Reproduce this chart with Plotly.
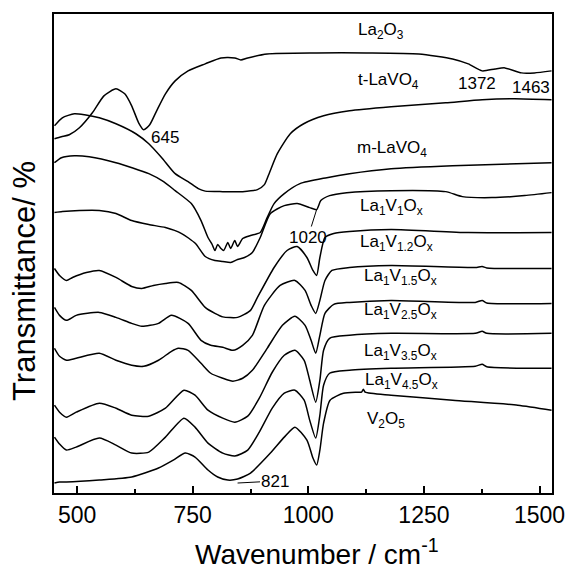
import plotly.graph_objects as go

# ---------------- data (wavenumber in cm-1, offset transmittance in arbitrary units) ----------------
wn_la2o3 = [451, 466, 483, 505, 533, 558, 584, 603, 618, 633, 644, 657, 672, 691, 712, 740, 777, 811, 841, 854, 869, 911, 1018, 1125, 1239, 1312, 1346, 1376, 1404, 1425, 1461, 1489, 1526]
t_la2o3 = [355, 357, 359, 366, 381, 398, 405, 400, 388, 371, 364, 369, 383, 400, 413, 423, 430, 436, 436, 434, 436, 440, 441, 441, 440, 435, 430, 423, 425, 426, 421, 421, 423]

wn_tlavo4 = [451, 468, 494, 516, 548, 584, 627, 655, 683, 712, 740, 762, 777, 815, 858, 890, 905, 916, 933, 961, 990, 1033, 1089, 1179, 1297, 1376, 1446, 1526]
t_tlavo4 = [368, 376, 380, 379, 376, 370, 360, 350, 336, 320, 312, 305, 302.5, 302, 302, 304, 309, 321, 340, 360, 370, 378, 383, 387, 391, 394, 395, 394]

wn_mlavo4 = [451, 466, 494, 526, 584, 655, 687, 712, 747, 768, 783, 792, 798, 804, 811, 817, 826, 832, 841, 847, 858, 875, 896, 911, 926, 948, 982, 1040, 1089, 1179, 1312, 1526]
t_mlavo4 = [331, 336, 338, 337, 331, 320, 312, 303, 290, 273, 256, 249, 243, 249, 245, 243, 251, 245, 253, 247, 255, 258, 261, 276, 290, 300, 310, 316, 320, 325, 328, 331]

wn_v1 = [451, 468, 505, 548, 584, 618, 655, 691, 726, 756, 777, 798, 815, 832, 847, 862, 879, 896, 918, 948, 976, 1003, 1018, 1027, 1046, 1083, 1179, 1297, 1333, 1397, 1468, 1526]
t_v1 = [281, 282, 283, 283, 280, 273, 269, 266, 260, 250, 237, 233, 232, 231, 234, 236, 241, 256, 280, 288, 290, 286, 284, 293, 298, 301, 303, 302, 297, 296, 298, 301]

wn_v12 = [451, 462, 477, 490, 520, 548, 584, 618, 640, 665, 691, 719, 747, 777, 798, 815, 847, 875, 890, 926, 954, 976, 997, 1010, 1018, 1025, 1036, 1055, 1089, 1179, 1346, 1526]
t_v12 = [225, 218, 213, 216, 221, 223, 216, 207, 205, 208, 210, 211, 203, 186, 180, 176.5, 176, 183, 196, 226, 243, 247, 236, 223, 218, 236, 256, 260, 262, 264, 261, 261]

wn_v15 = [451, 462, 477, 498, 548, 584, 618, 640, 676, 704, 740, 768, 789, 815, 837, 858, 879, 905, 939, 971, 993, 1006, 1016, 1025, 1036, 1051, 1089, 1179, 1361, 1376, 1386, 1526]
t_v15 = [186, 178, 173, 178, 181, 176, 170, 167, 170, 178, 170, 153, 148, 146, 143, 148, 158, 188, 208, 213, 203, 188, 180, 193, 213, 223, 226, 228, 226, 227, 225.5, 225]

wn_v25 = [451, 462, 477, 498, 548, 584, 618, 644, 676, 704, 719, 740, 768, 789, 815, 837, 858, 879, 911, 944, 971, 993, 1006, 1016, 1025, 1036, 1055, 1089, 1179, 1361, 1376, 1386, 1526]
t_v25 = [145, 137, 133, 135, 140, 133, 128, 127, 133, 142, 145, 143, 130, 120, 115, 112, 115, 123, 145, 168, 177, 168, 153, 140, 158, 180, 189, 191, 193, 191, 193, 190.5, 190]

wn_v35 = [451, 462, 477, 498, 548, 584, 618, 655, 691, 731, 755, 783, 815, 841, 869, 894, 922, 948, 971, 991, 1003, 1016, 1025, 1033, 1046, 1089, 1179, 1361, 1376, 1386, 1526]
t_v35 = [88, 81, 76, 81, 90, 85, 78, 77, 85, 103, 98, 83, 75, 71, 77, 95, 121, 138, 143, 133, 113, 91, 113, 143, 155, 158, 160, 160, 162, 160, 160]

wn_v45 = [451, 462, 477, 498, 548, 584, 618, 655, 691, 731, 755, 783, 815, 841, 869, 894, 922, 948, 971, 991, 1003, 1016, 1025, 1033, 1046, 1089, 1179, 1361, 1376, 1386, 1526]
t_v45 = [56, 49, 43, 46, 55, 48, 40, 41, 56, 75, 66, 50, 40, 37, 43, 61, 85, 100, 103, 93, 73, 55, 78, 108, 120, 123, 125, 127, 129, 126.5, 125]

wn_v2o5 = [451, 462, 477, 548, 618, 676, 708, 734, 755, 783, 804, 826, 847, 875, 918, 948, 971, 997, 1010, 1018, 1025, 1033, 1047, 1076, 1104, 1115, 1119, 1123, 1179, 1312, 1453, 1526]
t_v2o5 = [10, 11, 11, 13, 16, 25, 33, 40, 36, 23, 16, 13, 14, 20, 40, 56, 66, 53, 35, 28, 43, 70, 93, 100, 101, 101, 104, 101, 98, 93, 88, 83]

series = [
    (wn_la2o3, t_la2o3), (wn_tlavo4, t_tlavo4), (wn_mlavo4, t_mlavo4),
    (wn_v1, t_v1), (wn_v12, t_v12), (wn_v15, t_v15), (wn_v25, t_v25),
    (wn_v35, t_v35), (wn_v45, t_v45), (wn_v2o5, t_v2o5),
]

# curve labels: text, wavenumber of left edge, vertical position
label_texts = ["La<sub>2</sub>O<sub>3</sub>", "t-LaVO<sub>4</sub>", "m-LaVO<sub>4</sub>",
               "La<sub>1</sub>V<sub>1</sub>O<sub>x</sub>", "La<sub>1</sub>V<sub>1.2</sub>O<sub>x</sub>",
               "La<sub>1</sub>V<sub>1.5</sub>O<sub>x</sub>", "La<sub>1</sub>V<sub>2.5</sub>O<sub>x</sub>",
               "La<sub>1</sub>V<sub>3.5</sub>O<sub>x</sub>", "La<sub>1</sub>V<sub>4.5</sub>O<sub>x</sub>",
               "V<sub>2</sub>O<sub>5</sub>"]
label_wn = [1104, 1104, 1100, 1108, 1108, 1117, 1117, 1117, 1119, 1123]
label_t = [463, 413, 345, 287, 251, 216, 182, 141, 112, 73]

# band annotations: text, text position, pointed position (None = no leader)
band_texts = ["645", "1372", "1463", "1020", "821"]
band_text_wn = [689, 1365, 1481, 999, 929]
band_text_t = [356, 410, 406, 256, 12]
band_tip_wn = [None, None, None, 1018, 847]
band_tip_t = [None, None, None, 284, 10]

xtick_vals = [500, 750, 1000, 1250, 1500]

FONT = "Liberation Sans, Arial, Helvetica, sans-serif"

fig = go.Figure()
for wn, t in series:
    fig.add_trace(go.Scatter(x=wn, y=t, mode="lines", showlegend=False, hoverinfo="skip",
                             line=dict(color="black", width=1.5, shape="spline", smoothing=0.6)))

annotations = []
for txt, xw, yt in zip(label_texts, label_wn, label_t):
    annotations.append(dict(x=xw, y=yt, xref="x", yref="y", text=txt, showarrow=False,
                            xanchor="left", yanchor="middle", font=dict(family=FONT, size=17, color="black")))
for txt, xw, yt, tw, tt in zip(band_texts, band_text_wn, band_text_t, band_tip_wn, band_tip_t):
    if tw is None:
        annotations.append(dict(x=xw, y=yt, xref="x", yref="y", text=txt, showarrow=False,
                                font=dict(family=FONT, size=17, color="black")))
    else:
        annotations.append(dict(x=tw, y=tt, ax=xw, ay=yt, xref="x", yref="y", axref="x", ayref="y",
                                text=txt, showarrow=True, arrowhead=0, arrowwidth=1, arrowcolor="black",
                                standoff=0, startstandoff=0, font=dict(family=FONT, size=17, color="black")))

annotations.append(dict(x=0.529, y=-0.123, xref="paper", yref="paper", text="Wavenumber / cm<sup>-1</sup>",
                        showarrow=False, xanchor="center", yanchor="middle",
                        font=dict(family=FONT, size=28, color="black")))
annotations.append(dict(x=-0.058, y=0.443, xref="paper", yref="paper", text="Transmittance/ %",
                        showarrow=False, textangle=-90, xanchor="center", yanchor="middle",
                        font=dict(family=FONT, size=31, color="black")))

fig.update_layout(
    width=577, height=571,
    margin=dict(l=54, r=20, t=13, b=78),
    paper_bgcolor="white", plot_bgcolor="white",
    annotations=annotations,
    xaxis=dict(range=[450, 1527], tickmode="array", tickvals=xtick_vals, ticks="inside", ticklen=7,
               tickwidth=1.5, tickcolor="black", showline=True, linewidth=2, linecolor="black", mirror=True,
               showgrid=False, zeroline=False, tickfont=dict(family=FONT, size=23, color="black"),
               minor=dict(tickmode="array", tickvals=[625, 875, 1125, 1375], ticks="inside", ticklen=4,
                          tickwidth=1.5, tickcolor="black")),
    yaxis=dict(range=[0, 480], showticklabels=False, ticks="", showline=True, linewidth=2,
               linecolor="black", mirror=True, showgrid=False, zeroline=False),
)

fig.write_html("out.html", config={"displayModeBar": False},
               post_script="document.body.style.margin='0';")
